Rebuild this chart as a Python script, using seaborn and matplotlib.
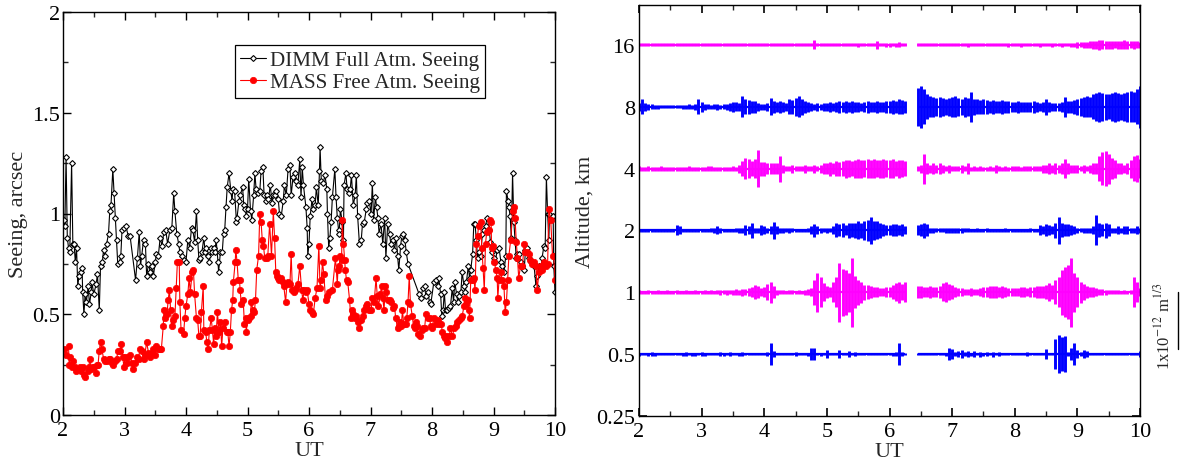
import matplotlib
matplotlib.use('Agg')
import numpy as np
import matplotlib.pyplot as plt
import matplotlib.transforms as mtransforms
from matplotlib.ticker import MultipleLocator, FixedLocator, FuncFormatter, NullLocator
import seaborn as sns

nan = np.nan

# ---------------- left panel: seeing vs UT ----------------
dimm_ut = [2.02, 2.03, 2.05, 2.07, 2.09, 2.11, 2.14, 2.16, 2.18, 2.20, 2.22, 2.24, 2.26, 2.29, 2.31, 2.32, 2.34, 2.36, 2.38, 2.41,
           2.43, 2.46, 2.47, 2.50, 2.54, 2.56, 2.59, 2.61, 2.64, 2.66, 2.68, 2.71, 2.74, 2.76, 2.78, 2.81, 2.83, 2.85, 2.87, 2.89,
           2.92, 2.94, 2.96, 2.99, 3.02, 3.06, 3.09, 3.18, 3.21, 3.24, 3.26, 3.28, 3.31, 3.34, 3.36, 3.39, 3.42, 3.45, 3.47, 3.50,
           3.52, 3.55, 3.58, 3.61, 3.64, 3.67, 3.70, 3.74, 3.77, 3.80, 3.82, 3.85, 3.88, 3.90, 3.93, 3.97, 4.00,
           4.03, 4.06, 4.09, 4.11, 4.14, 4.17, 4.19, 4.21, 4.23, 4.26, 4.29, 4.31, 4.33, 4.36, 4.38, 4.41, 4.43, 4.45, 4.47, 4.49,
           4.52, 4.53, 4.56, 4.59, 4.61, 4.63, 4.65, 4.67, 4.70, 4.73, 4.75, 4.76, 4.79, 4.82, 4.83, 4.86, 4.88, 4.92, 4.94, 4.96,
           4.98, 5.00, 5.02, 5.05, 5.07, 5.10, 5.12, 5.14, 5.17, 5.20, 5.22, 5.25, 5.27, 5.30, 5.32, 5.34, 5.37, 5.40, 5.42, 5.45,
           5.47, 5.50, 5.52, 5.55, 5.58, 5.60, 5.63, 5.66, 5.69, 5.71, 5.74, 5.77, 5.79, 5.82, 5.85, 5.87, 5.89, 5.91, 5.95, 5.97,
           5.98, 6.00, 6.02, 6.05,
           6.07, 6.10, 6.12, 6.15, 6.17, 6.18, 6.20, 6.23, 6.26, 6.29, 6.30, 6.32, 6.34, 6.36, 6.38, 6.42, 6.44, 6.46, 6.48, 6.49,
           6.51, 6.54, 6.56, 6.57, 6.60, 6.62, 6.65, 6.67, 6.69, 6.72, 6.75, 6.77, 6.79, 6.82, 6.85, 6.87, 6.90, 6.93, 6.95, 6.98,
           7.01, 7.03, 7.05, 7.08, 7.10, 7.12, 7.14, 7.17, 7.20, 7.23, 7.25, 7.28, 7.31, 7.33, 7.36, 7.39, 7.42, 7.44, 7.46, 7.49,
           7.51, 7.53, 7.56, 7.58, 7.61, 7.79, 7.82, 7.85, 7.88, 7.90, 7.93, 7.96, 7.98,
           8.03, 8.06, 8.09, 8.11, 8.14, 8.16, 8.18, 8.20, 8.22, 8.25, 8.28, 8.30, 8.33, 8.35, 8.37, 8.40, 8.42, 8.44, 8.47, 8.49,
           8.52, 8.54, 8.56, 8.59, 8.61, 8.63, 8.66, 8.68, 8.70, 8.72, 8.74, 8.76, 8.79, 8.82, 8.85, 8.87, 8.90, 8.93, 8.95, 8.98,
           9.01, 9.03, 9.06, 9.09, 9.12, 9.14, 9.17, 9.20, 9.21, 9.24, 9.25, 9.27, 9.29, 9.31, 9.33, 9.35, 9.37, 9.39, 9.41, 9.44,
           9.47, 9.50, 9.52, 9.55, 9.58, 9.61, 9.63, 9.66, 9.69, 9.71, 9.74, 9.77, 9.79, 9.82, 9.84, 9.86, 9.88, 9.90, 9.91, 9.97,
           9.98, 10.00]
dimm_seeing = [0.97, 0.94, 1.28, 0.88, 0.83, 0.81, 1.25, 0.85, 0.85, 0.76, 0.83, 0.64, 0.69, 0.71, 0.73, 0.61, 0.50, 0.60, 0.56, 0.64,
               0.55, 0.61, 0.66, 0.60, 0.65, 0.70, 0.52, 0.74, 0.76, 0.82, 0.79, 0.85, 0.90, 1.01, 1.04, 1.22, 1.10, 0.98, 0.87, 0.75,
               0.76, 0.79, 0.92, 0.93, 0.94, 0.89, 0.89, 0.67, 0.78, 0.91, 0.74, 0.79, 0.87, 0.85, 0.69, 0.75, 0.71, 0.74, 0.69, 0.76,
               0.80, 0.79, 0.88, 0.84, 0.91, 0.92, 0.85, 0.92, 0.93, 1.10, 1.01, 0.90, 0.85, 0.81, 0.79, 0.77, 0.76,
               0.87, 0.83, 0.93, 0.92, 0.86, 1.01, 0.87, 0.77, 0.78, 0.81, 0.88, 0.81, 0.83, 0.79, 0.76, 0.83, 0.81, 0.83, 0.81, 0.87,
               0.76, 0.71, 0.81, 0.81, 0.90, 0.92, 1.03, 1.13, 1.20, 1.11, 1.06, 1.12, 1.11, 0.96, 0.98, 1.06, 1.09, 1.13, 1.04, 1.02,
               0.99, 1.02, 1.17, 1.01, 0.97, 1.09, 1.20, 1.12, 1.10, 1.11, 1.21, 1.23, 1.09, 1.06, 1.09, 1.07, 1.14, 1.05, 1.09, 1.09,
               1.11, 1.07, 1.00, 0.99, 1.06, 1.14, 1.09, 1.22, 1.24, 1.09, 1.18, 1.20, 1.16, 1.14, 1.27, 1.08, 1.23, 1.14, 1.03, 0.93,
               0.79, 0.85, 0.99, 1.07,
               1.02, 1.04, 1.13, 1.04, 1.21, 1.33, 1.16, 1.15, 1.19, 1.12, 1.00, 0.83, 0.88, 0.96, 1.08, 1.22, 1.08, 0.98, 0.92, 0.90,
               1.02, 0.96, 0.87, 1.14, 1.20, 1.12, 1.10, 1.12, 1.19, 1.04, 1.09, 1.19, 0.99, 0.85, 0.87, 0.95, 0.96, 1.02, 1.05, 1.06,
               1.00, 1.15, 0.97, 1.08, 1.03, 0.98, 0.90, 0.95, 0.85, 0.98, 0.78, 0.95, 0.90, 0.85, 0.87, 0.82, 0.88, 0.79, 0.72, 0.84,
               0.89, 0.90, 0.87, 0.81, 0.75, 0.60, 0.58, 0.63, 0.64, 0.59, 0.61, 0.56, 0.55,
               0.66, 0.67, 0.64, 0.68, 0.60, 0.49, 0.52, 0.61, 0.52, 0.52, 0.53, 0.54, 0.63, 0.56, 0.66, 0.60, 0.56, 0.59, 0.61, 0.71,
               0.64, 0.61, 0.66, 0.74, 0.68, 0.72, 0.80, 0.95, 0.95, 0.87, 0.78, 0.81, 0.79, 0.90, 0.92, 0.94, 0.98, 0.92, 0.86, 0.81,
               0.78, 0.76, 0.82, 0.83, 0.76, 0.74, 0.71, 0.79, 1.11, 1.06, 1.03, 0.99, 0.88, 1.20, 0.96, 0.87, 0.78, 0.80, 0.80, 0.76,
               0.74, 0.72, 0.82, 0.83, 0.78, 0.76, 0.76, 0.74, 0.64, 0.69, 0.74, 0.72, 0.78, 0.84, 0.83, 1.18, 1.00, 0.87, 1.00, 0.99,
               0.74, 0.61]

mass_ut = [2.02, 2.05, 2.09, 2.10, 2.12, 2.15, 2.17, 2.19, 2.21, 2.23, 2.27, 2.29, 2.32, 2.34, 2.36, 2.40, 2.42, 2.44, 2.46, 2.48,
           2.50, 2.53, 2.55, 2.57, 2.59, 2.61, 2.63, 2.66, 2.68, 2.71, 2.74, 2.76, 2.79, 2.82, 2.85, 2.87, 2.90, 2.93, 2.95, 2.97,
           2.99, 3.01, 3.04, 3.06, 3.09, 3.12, 3.14, 3.17, 3.20, 3.23, 3.25, 3.28, 3.31, 3.33, 3.36, 3.39, 3.41, 3.44, 3.47, 3.50,
           3.52, 3.55, 3.58, 3.60, 3.63, 3.64, 3.66, 3.69, 3.71, 3.73, 3.75, 3.77, 3.79, 3.82, 3.84, 3.86, 3.89, 3.90, 3.92,
           3.96, 3.98, 4.00, 4.03, 4.05, 4.07, 4.10, 4.12, 4.14, 4.17, 4.19, 4.21, 4.23, 4.25, 4.28, 4.29, 4.32, 4.34, 4.36, 4.38,
           4.41, 4.43, 4.45, 4.47, 4.49, 4.51, 4.54, 4.56, 4.58, 4.60, 4.63, 4.66, 4.68, 4.70, 4.72, 4.74, 4.76, 4.77, 4.80, 4.81,
           4.83, 4.85, 4.87, 4.88, 4.90, 4.93, 4.95, 4.97, 4.98, 5.00, 5.02, 5.05, 5.06, 5.09, 5.11, 5.13, 5.15, 5.18, 5.20, 5.22,
           5.24, 5.26, 5.28, 5.31, 5.33, 5.36, 5.39, 5.42, 5.44, 5.46, 5.48, 5.50, 5.52, 5.54, 5.57, 5.59, 5.62, 5.64, 5.66, 5.69,
           5.71, 5.73, 5.75, 5.77, 5.79, 5.82, 5.85, 5.88, 5.90, 5.92, 5.95, 5.97, 6.00, 6.02, 6.05,
           6.07, 6.10, 6.13, 6.16, 6.18, 6.20, 6.22, 6.24, 6.27, 6.30, 6.33, 6.38, 6.43, 6.46, 6.47, 6.49, 6.51, 6.53, 6.54, 6.56,
           6.58, 6.59, 6.61, 6.63, 6.66, 6.68, 6.70, 6.72, 6.74, 6.76, 6.79, 6.82, 6.85, 6.87, 6.90, 6.93, 6.95, 6.98, 7.01, 7.03,
           7.06, 7.09, 7.11, 7.13, 7.16, 7.18, 7.20, 7.22, 7.24, 7.26, 7.28, 7.31, 7.33, 7.36, 7.39, 7.41, 7.44, 7.46, 7.48, 7.50,
           7.52, 7.54, 7.57, 7.59, 7.61, 7.63, 7.65, 7.68, 7.70, 7.72, 7.74, 7.76, 7.78, 7.80, 7.83, 7.85, 7.88, 7.90, 7.93,
           7.96, 7.98, 8.00, 8.03, 8.06, 8.09, 8.11, 8.15, 8.17, 8.19, 8.21, 8.23, 8.25, 8.28, 8.30, 8.33, 8.36, 8.39, 8.41, 8.44,
           8.47, 8.49, 8.52, 8.54, 8.56, 8.58, 8.60, 8.61, 8.63, 8.66, 8.68, 8.70, 8.72, 8.74, 8.76, 8.79, 8.81, 8.83, 8.85, 8.87,
           8.89, 8.92, 8.94, 8.96, 8.97, 8.99, 9.01, 9.04, 9.06, 9.07, 9.09, 9.12, 9.14, 9.17, 9.19, 9.21, 9.23, 9.25, 9.28, 9.31,
           9.33, 9.35, 9.37, 9.39, 9.41, 9.44, 9.47, 9.50, 9.52, 9.55, 9.58, 9.60, 9.63, 9.66, 9.69, 9.71, 9.74, 9.77, 9.79, 9.82,
           9.85, 9.88, 9.90, 9.93, 9.96, 9.98, 10.00]
mass_seeing = [0.33, 0.30, 0.34, 0.25, 0.29, 0.24, 0.27, 0.24, 0.22, 0.23, 0.24, 0.22, 0.24, 0.20, 0.19, 0.22, 0.24, 0.28, 0.23, 0.24,
               0.24, 0.21, 0.25, 0.25, 0.32, 0.36, 0.33, 0.28, 0.27, 0.27, 0.28, 0.28, 0.26, 0.25, 0.27, 0.28, 0.32, 0.32, 0.35, 0.29,
               0.24, 0.29, 0.26, 0.29, 0.30, 0.26, 0.23, 0.26, 0.29, 0.28, 0.33, 0.32, 0.28, 0.30, 0.36, 0.31, 0.29, 0.31, 0.33, 0.30,
               0.34, 0.33, 0.33, 0.33, 0.44, 0.52, 0.48, 0.50, 0.57, 0.62, 0.52, 0.44, 0.47, 0.49, 0.63, 0.76, 0.76, 0.56, 0.42,
               0.40, 0.48, 0.54, 0.60, 0.68, 0.61, 0.71, 0.72, 0.60, 0.48, 0.47, 0.39, 0.39, 0.51, 0.64, 0.42, 0.41, 0.36, 0.33, 0.42,
               0.48, 0.42, 0.35, 0.43, 0.39, 0.51, 0.41, 0.46, 0.34, 0.43, 0.46, 0.41, 0.41, 0.34, 0.41, 0.52, 0.57, 0.66, 0.76, 0.82,
               0.76, 0.67, 0.67, 0.62, 0.55, 0.57, 0.45, 0.48, 0.41, 0.47, 0.48, 0.49, 0.56, 0.52, 0.51, 0.57, 0.72, 0.79, 1.00, 0.96,
               0.87, 0.84, 0.78, 0.78, 0.79, 0.95, 0.79, 1.01, 0.88, 0.71, 0.69, 0.68, 0.67, 0.68, 0.66, 0.64, 0.56, 0.65, 0.66, 0.65,
               0.80, 0.62, 0.61, 0.62, 0.63, 0.65, 0.74, 0.62, 0.57, 0.62, 0.61, 0.62, 0.55, 0.52, 0.51,
               0.50, 0.58, 0.63, 0.84, 0.63, 0.67, 0.76, 0.70, 0.57, 0.59, 0.61, 0.62, 0.78, 0.65, 0.72, 0.74, 0.79, 0.77, 0.97, 0.85,
               0.77, 0.72, 0.67, 0.66, 0.57, 0.48, 0.52, 0.50, 0.48, 0.49, 0.46, 0.43, 0.47, 0.49, 0.52, 0.54, 0.55, 0.52, 0.52, 0.58,
               0.56, 0.68, 0.59, 0.54, 0.60, 0.64, 0.58, 0.52, 0.64, 0.61, 0.57, 0.57, 0.56, 0.53, 0.54, 0.48, 0.43, 0.44, 0.46, 0.44,
               0.52, 0.45, 0.45, 0.48, 0.56, 0.69, 0.55, 0.49, 0.44, 0.43, 0.46, 0.44, 0.40, 0.39, 0.42, 0.43, 0.43, 0.50, 0.48,
               0.48, 0.44, 0.43, 0.48, 0.45, 0.47, 0.45, 0.45, 0.41, 0.39, 0.38, 0.39, 0.36, 0.39, 0.43, 0.39, 0.43, 0.44, 0.46, 0.47,
               0.48, 0.49, 0.54, 0.58, 0.55, 0.57, 0.52, 0.48, 0.67, 0.67, 0.68, 0.62, 0.85, 0.89, 0.94, 0.96, 0.83, 0.73, 0.62, 0.85,
               0.91, 0.92, 0.97, 0.96, 0.83, 0.84, 0.76, 0.72, 0.68, 0.58, 0.67, 0.71, 0.67, 0.64, 0.51, 0.56, 0.67, 0.79, 0.87, 1.01,
               1.03, 0.98, 0.86, 0.78, 0.68, 0.74, 0.74, 0.85, 0.81, 0.81, 0.80, 0.77, 0.75, 0.76, 0.74, 0.62, 0.71, 0.74, 0.72, 0.76,
               0.74, 0.75, 1.02, 0.97, 0.79, 0.79, 0.67]

# ---------------- right panel: turbulence profile ----------------
# Cn2*dh per layer, units of 1e-14 m^(1/3), sampled every 0.05 h from 2.00 to 10.00 UT (nan = no data)
altitudes = [0.5, 1, 2, 4, 8, 16]
layer_colors = ['#0000ff', '#ff00ff', '#0000ff', '#ff00ff', '#0000ff', '#ff00ff']

cn2_05 = [5, 4, 4, 5, 7, 5, 4, 4, 4, 4, 4, 4, 4, 4, 5, 7, 4, 5, 5, 4,
          7, 5, 4, 4, 4, 4, 7, 5, 4, 7, 4, 4, 5, 7, 4, 4, 4, 4, 4, 4,
          4, 7, 38, 10, 4, 4, 4, 4, 4, 4, 7, 4, 4, 4, 5, 21, 21, 4, 5, 4,
          14, 4, 4, 4, 14, 4, 4, 10, 4, 7, 4, 4, 4, 4, 4, 4, 4, 4, 4, 4,
          4, 5, 7, 38, 7, 4, nan, nan, nan, 4, 4, 4, 4, 4, 4, 4, 4, 4, 5, 21,
          18, 7, 10, 14, 7, 10, 5, 10, 4, 9, 5, 7, 4, 9, 4, 7, 4, 4, 4, 4,
          4, 4, 4, 4, 7, 4, 4, 4, 4, 4, 18, 4, 4, 53, 67, 60, 63, 7, 21, 38,
          14, 7, 14, 10, 4, 4, 4, 4, 4, 4, 4, 4, 4, 4, 4, 4, 4, 4, 4, 4,
          10]
cn2_1 = [7, 5, 5, 7, 5, 5, 7, 5, 5, 7, 5, 5, 7, 5, 5, 7, 5, 5, 7, 5,
         5, 7, 5, 7, 5, 7, 9, 7, 9, 7, 9, 10, 9, 12, 10, 14, 18, 25, 21, 14,
         18, 28, 38, 21, 9, 7, 7, 5, 7, 7, 5, 7, 5, 9, 10, 14, 44, 70, 53, 32,
         21, 18, 35, 53, 105, 84, 79, 70, 123, 56, 44, 38, 26, 25, 21, 18, 18, 14, 14, 18,
         18, 25, 32, 38, 28, 35, nan, nan, nan, 21, 21, 18, 18, 21, 18, 18, 21, 32, 35, 28,
         25, 18, 14, 14, 10, 10, 14, 10, 10, 14, 18, 18, 21, 21, 21, 18, 21, 18, 14, 14,
         14, 14, 18, 18, 14, 18, 18, 21, 21, 21, 25, 32, 25, 42, 53, 79, 88, 96, 123, 70,
         53, 38, 28, 21, 18, 18, 14, 10, 10, 9, 7, 7, 7, 7, 5, 7, 5, 7, 53, 35,
         14]
cn2_2 = [5, 5, 5, 5, 5, 5, 5, 5, 5, 5, 5, 5, 18, 14, 5, 5, 5, 5, 5, 5,
         5, 5, 5, 7, 10, 14, 10, 5, 5, 5, 5, 7, 9, 9, 18, 14, 26, 10, 9, 18,
         14, 10, 14, 30, 14, 10, 9, 7, 10, 7, 5, 5, 5, 5, 7, 14, 23, 14, 9, 7,
         9, 7, 14, 25, 21, 25, 18, 28, 25, 26, 32, 28, 35, 38, 47, 35, 32, 26, 21, 18,
         18, 21, 21, 18, 21, 14, nan, nan, nan, 18, 21, 26, 21, 9, 9, 7, 7, 7, 10, 9,
         10, 9, 9, 10, 7, 7, 5, 5, 7, 5, 5, 7, 5, 5, 5, 5, 5, 7, 5, 5,
         5, 5, 5, 5, 5, 7, 5, 5, 18, 14, 21, 18, 14, 26, 47, 25, 21, 21, 18, 14,
         9, 7, 9, 10, 10, 14, 53, 25, 21, 26, 21, 10, 9, 14, 10, 14, 14, 10, 9, 14,
         10]
cn2_4 = [9, 7, 7, 9, 7, 7, 7, 9, 7, 7, 7, 7, 7, 7, 7, 7, 9, 7, 7, 7,
         7, 7, 10, 9, 7, 7, 7, 7, 7, 7, 9, 7, 14, 28, 38, 35, 28, 35, 65, 25,
         25, 21, 18, 21, 18, 46, 14, 10, 10, 14, 10, 10, 10, 14, 10, 10, 14, 10, 14, 21,
         21, 25, 21, 26, 25, 28, 32, 30, 26, 32, 35, 32, 30, 35, 32, 35, 30, 32, 35, 30,
         32, 35, 28, 32, 30, 26, nan, nan, nan, 9, 14, 53, 18, 14, 18, 14, 18, 14, 10, 14,
         10, 9, 9, 14, 9, 18, 7, 9, 7, 9, 7, 7, 9, 7, 14, 9, 7, 9, 7, 9,
         9, 9, 7, 9, 9, 10, 10, 9, 10, 14, 14, 18, 14, 18, 14, 18, 35, 18, 14, 14,
         14, 10, 14, 10, 14, 18, 21, 44, 58, 61, 53, 38, 32, 21, 18, 14, 21, 32, 44, 47,
         35]
cn2_8 = [14, 26, 14, 10, 9, 7, 7, 5, 5, 5, 5, 5, 5, 5, 7, 7, 9, 7, 10, 26,
         18, 10, 9, 7, 9, 10, 7, 9, 10, 14, 18, 16, 14, 38, 26, 25, 21, 21, 14, 10,
         10, 14, 30, 21, 18, 21, 18, 14, 26, 25, 32, 37, 28, 21, 18, 14, 10, 14, 10, 14,
         14, 18, 14, 18, 21, 18, 21, 18, 21, 18, 18, 14, 18, 21, 18, 18, 21, 18, 18, 21,
         21, 25, 21, 26, 25, 21, nan, nan, nan, 67, 74, 61, 44, 38, 35, 32, 35, 32, 28, 32,
         35, 38, 32, 28, 35, 32, 53, 28, 26, 25, 26, 25, 21, 25, 21, 21, 25, 21, 21, 18,
         18, 21, 18, 18, 18, 18, 21, 18, 14, 18, 28, 18, 14, 14, 14, 18, 35, 21, 21, 25,
         28, 32, 35, 38, 35, 44, 49, 53, 49, 46, 44, 49, 53, 49, 46, 49, 53, 56, 53, 61,
         74]
cn2_16 = [5, 5, 5, 5, 5, 5, 5, 5, 5, 5, 5, 5, 5, 5, 5, 5, 5, 5, 5, 5,
          5, 5, 5, 5, 5, 5, 5, 5, 5, 5, 5, 5, 5, 5, 5, 5, 5, 5, 5, 5,
          5, 5, 5, 5, 5, 5, 5, 5, 5, 5, 5, 5, 5, 5, 5, 5, 16, 5, 5, 5,
          5, 5, 5, 5, 5, 5, 5, 5, 5, 5, 7, 5, 5, 5, 5, 5, 14, 5, 5, 7,
          7, 5, 7, 9, 5, 5, nan, nan, nan, 5, 5, 5, 5, 5, 5, 5, 5, 5, 5, 5,
          5, 5, 5, 5, 5, 7, 5, 5, 5, 5, 5, 5, 5, 5, 5, 5, 5, 5, 7, 5,
          5, 5, 7, 5, 5, 5, 5, 5, 7, 5, 5, 5, 7, 5, 5, 7, 5, 5, 7, 7,
          10, 9, 10, 10, 12, 14, 14, 18, 16, 14, 14, 14, 12, 14, 14, 16, 14, 12, 14, 12,
          10]
layers = [cn2_05, cn2_1, cn2_2, cn2_4, cn2_8, cn2_16]
profile_ut = np.linspace(2.0, 10.0, 161)

# 1e-12 m^(1/3) (= 100 units) is drawn as this many octaves of altitude
OCT_PER_1E12 = 0.912

# ---------------- style ----------------
FS = 16
sns.set_style("ticks")
plt.rcParams['font.family'] = ['Liberation Serif', 'DejaVu Serif']
plt.rcParams['mathtext.fontset'] = 'stix'
plt.rcParams['font.size'] = FS
plt.rcParams['axes.linewidth'] = 1.0
plt.rcParams['axes.edgecolor'] = 'black'

fig = plt.figure(figsize=(11.82, 4.60), dpi=100)
ax1 = fig.add_axes([63 / 1182, 44 / 460, 492 / 1182, 403 / 460])
ax2 = fig.add_axes([639 / 1182, 43 / 460, 501 / 1182, 411 / 460])

# left panel
sns.lineplot(x=dimm_ut, y=dimm_seeing, ax=ax1, estimator=None, color='black', lw=0.8,
             marker='D', ms=3.0, mfc='white', mec='black', mew=0.8,
             label='DIMM Full Atm. Seeing')
sns.lineplot(x=mass_ut, y=mass_seeing, ax=ax1, estimator=None, color='red', lw=0.8,
             marker='o', ms=4.6, mfc='red', mec='red', mew=0.5,
             label='MASS Free Atm. Seeing')
ax1.set_xlim(2, 10)
ax1.set_ylim(0, 2)
ax1.xaxis.set_major_locator(MultipleLocator(1))
ax1.xaxis.set_minor_locator(MultipleLocator(0.5))
ax1.yaxis.set_major_locator(MultipleLocator(0.5))
ax1.yaxis.set_minor_locator(MultipleLocator(0.25))
ax1.yaxis.set_major_formatter(FuncFormatter(lambda v, p: f"{v:g}"))
ax1.tick_params(which='major', direction='in', top=True, right=True, length=6, width=1,
                colors='black', labelsize=FS)
ax1.tick_params(axis='x', which='major', pad=4)
ax1.tick_params(axis='y', which='major', pad=2)
ax1.tick_params(which='minor', direction='in', top=True, right=True, length=3.5, width=1)
ax1.set_xlabel('UT', fontsize=FS, labelpad=1)
ax1.set_ylabel('Seeing, arcsec', fontsize=FS, labelpad=3)
leg = ax1.legend(loc='upper right', bbox_to_anchor=(0.858, 0.918), fontsize=15.2,
                 frameon=True, fancybox=False, framealpha=1, edgecolor='black',
                 handlelength=1.2, handletextpad=0.2, borderpad=0.25, labelspacing=0.12,
                 borderaxespad=0)
leg.get_frame().set_linewidth(0.9)

# right panel
ax2.set_yscale('log', base=2)
for alt, vals, col in zip(altitudes, layers, layer_colors):
    v = np.array(vals, dtype=float)
    half = v / 100.0 * OCT_PER_1E12 / 2.0
    ok = ~np.isnan(v)
    base = np.where(ok, alt, np.nan)
    ax2.plot(profile_ut, base, color=col, lw=1.6, solid_capstyle='butt')
    ax2.vlines(profile_ut[ok], alt * 2 ** (-half[ok]), alt * 2 ** (half[ok]), colors=col, lw=2.1)

ax2.set_xlim(2, 10)
ax2.set_ylim(0.25, 25)
ax2.xaxis.set_major_locator(MultipleLocator(1))
ax2.xaxis.set_minor_locator(MultipleLocator(0.5))
ax2.yaxis.set_major_locator(FixedLocator([0.25, 0.5, 1, 2, 4, 8, 16]))
ax2.yaxis.set_minor_locator(NullLocator())
ax2.yaxis.set_major_formatter(FuncFormatter(lambda v, p: f"{v:g}"))
ax2.tick_params(which='major', direction='in', top=True, right=True, length=6, width=1.2,
                colors='black', labelsize=FS)
ax2.tick_params(axis='x', which='major', pad=4)
ax2.tick_params(axis='y', which='major', pad=3)
ax2.tick_params(which='minor', direction='in', top=True, right=True, length=3.5, width=1)
ax2.set_xlabel('UT', fontsize=FS, labelpad=1)
ax2.set_ylabel('Altitude, km', fontsize=FS, labelpad=1)
for ax in (ax1, ax2):
    for s in ax.spines.values():
        s.set_zorder(5)
        s.set_linewidth(1.0)

# scale bar for the profile amplitudes
trans = mtransforms.blended_transform_factory(ax2.transAxes, ax2.transData)
ax2.plot([1.076, 1.076], [1.0, 2 ** (-OCT_PER_1E12)], color='black', lw=1.0,
         transform=trans, clip_on=False)
ax2.text(1.046, 2 ** (-OCT_PER_1E12 / 2 - 0.08), '1x10$^{-12}$ m$^{1/3}$', rotation=90,
         transform=trans, ha='center', va='center', fontsize=12)

fig.savefig('out.png', dpi=100)
